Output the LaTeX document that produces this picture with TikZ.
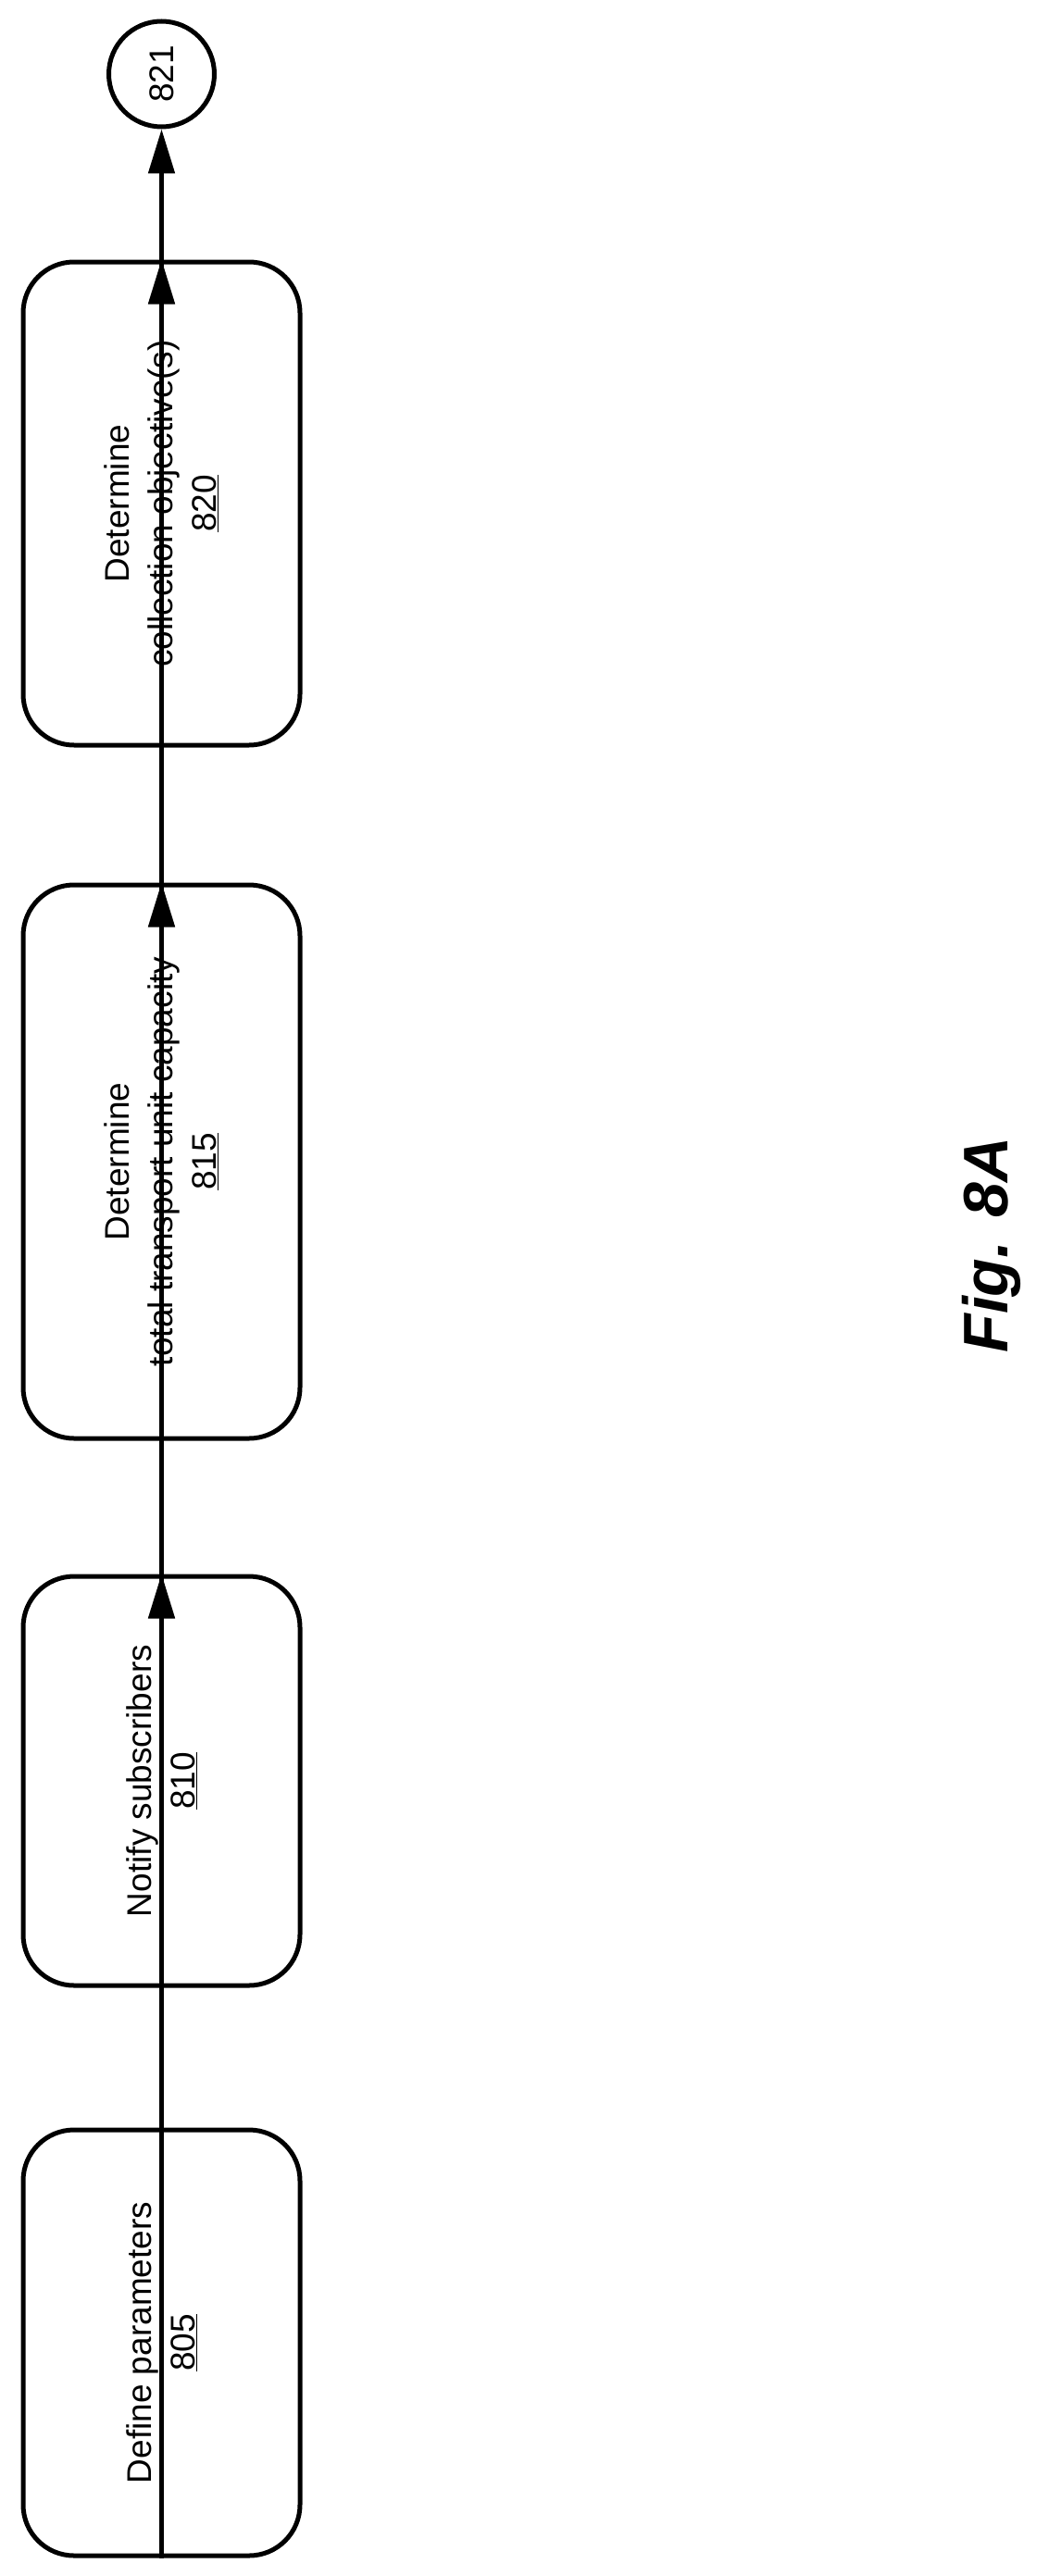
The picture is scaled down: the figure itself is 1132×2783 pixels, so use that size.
\documentclass[tikz,border=0pt]{standalone}
\usepackage{fontspec}
\setmainfont{Liberation Sans}
\usetikzlibrary{arrows.meta}
\tikzset{
  stepbox/.style={draw, line width=5pt, rounded corners=55pt, rotate=90,
    minimum height=299pt, align=center, font=\fontsize{37}{47}\selectfont},
  flow/.style={line width=5pt, -{Triangle[length=48pt,width=28pt]}}
}
\begin{document}
\begin{tikzpicture}[x=1pt,y=-1pt]
\useasboundingbox (0,0) rectangle (1132,2783);
\node[stepbox, minimum width=460pt] (s805) at (174.5,2531) {Define parameters\\\underline{805}};
\node[stepbox, minimum width=442pt] (s810) at (174.5,1924) {Notify subscribers\\\underline{810}};
\node[stepbox, minimum width=598pt] (s815) at (174.5,1255) {Determine\\total transport unit capacity\\\underline{815}};
\node[stepbox, minimum width=522pt] (s820) at (174.5,544) {Determine\\collection objective(s)\\\underline{820}};
\node[draw, circle, line width=5pt, minimum size=114pt, inner sep=0pt, rotate=90,
  font=\fontsize{37}{47}\selectfont] (c821) at (174.5,80) {821};
\draw[flow] (s805.west) -- (s810.east);
\draw[flow] (s810.west) -- (s815.east);
\draw[flow] (s815.west) -- (s820.east);
\draw[flow] (s820.west) -- (c821.west);
\node[rotate=90, font=\fontsize{68}{80}\selectfont\bfseries\itshape] (fig) at (1071,1345) {Fig. 8A};
\end{tikzpicture}
\end{document}
